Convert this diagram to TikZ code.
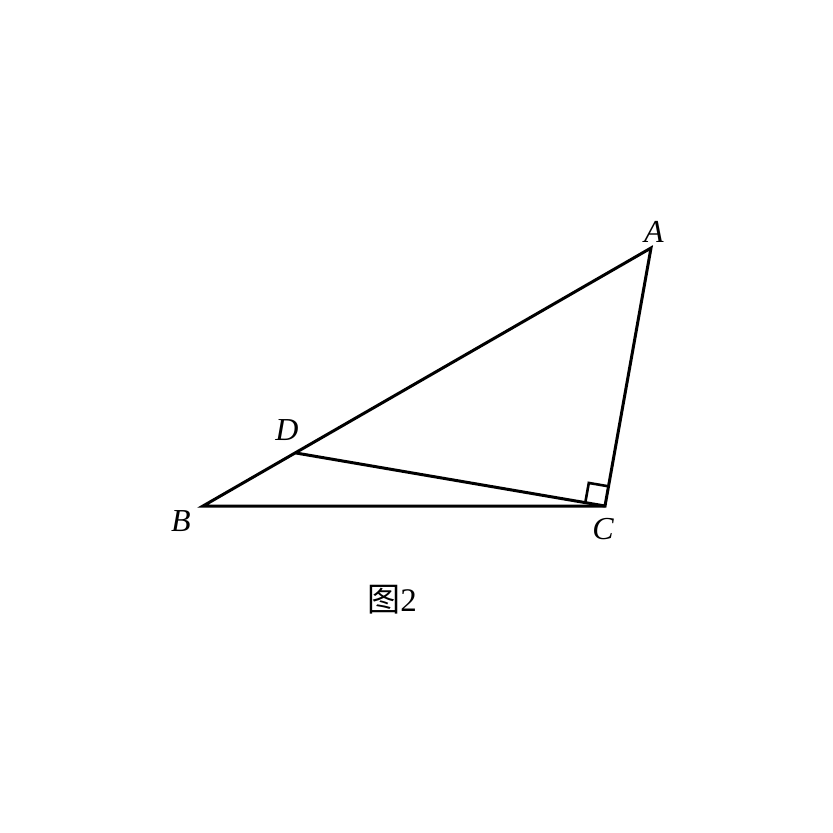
\documentclass[tikz,border=0pt]{standalone}
\usepackage{fontspec}
\usetikzlibrary{calc}
\setmainfont{Liberation Serif}
\newfontfamily\cjk{Noto Sans CJK SC}
\tikzset{seg/.style={line width=3pt, line join=miter, line cap=round},
  lab/.style={font=\fontsize{32}{34}\selectfont\itshape, inner sep=0pt}}
\begin{document}
\begin{tikzpicture}[x=1pt,y=-1pt]
\useasboundingbox (0,0) rectangle (833,833);
\coordinate (A) at (651,248);
\coordinate (B) at (203,506);
\coordinate (C) at (605,506);
\coordinate (D) at (296,453);
\draw[seg] (A) -- (B) -- (C) -- cycle;
\draw[seg] (D) -- (C);
\coordinate (m1) at ($(C)!20pt!(D)$);
\coordinate (m2) at ($(C)!20pt!(A)$);
\coordinate (m3) at ($(m1)+(m2)-(C)$);
\draw[line width=2.6pt] (m1) -- (m3) -- (m2);
\node[lab] (la) at (654,232) {A};
\node[lab] (ld) at (287,430) {D};
\node[lab] (lb) at (181,521) {B};
\node[lab] (lc) at (603,529) {C};
\node[inner sep=0pt] (cap) at (392,600) {\fontsize{33}{35}\selectfont{\cjk 图}2};
\end{tikzpicture}
\end{document}
